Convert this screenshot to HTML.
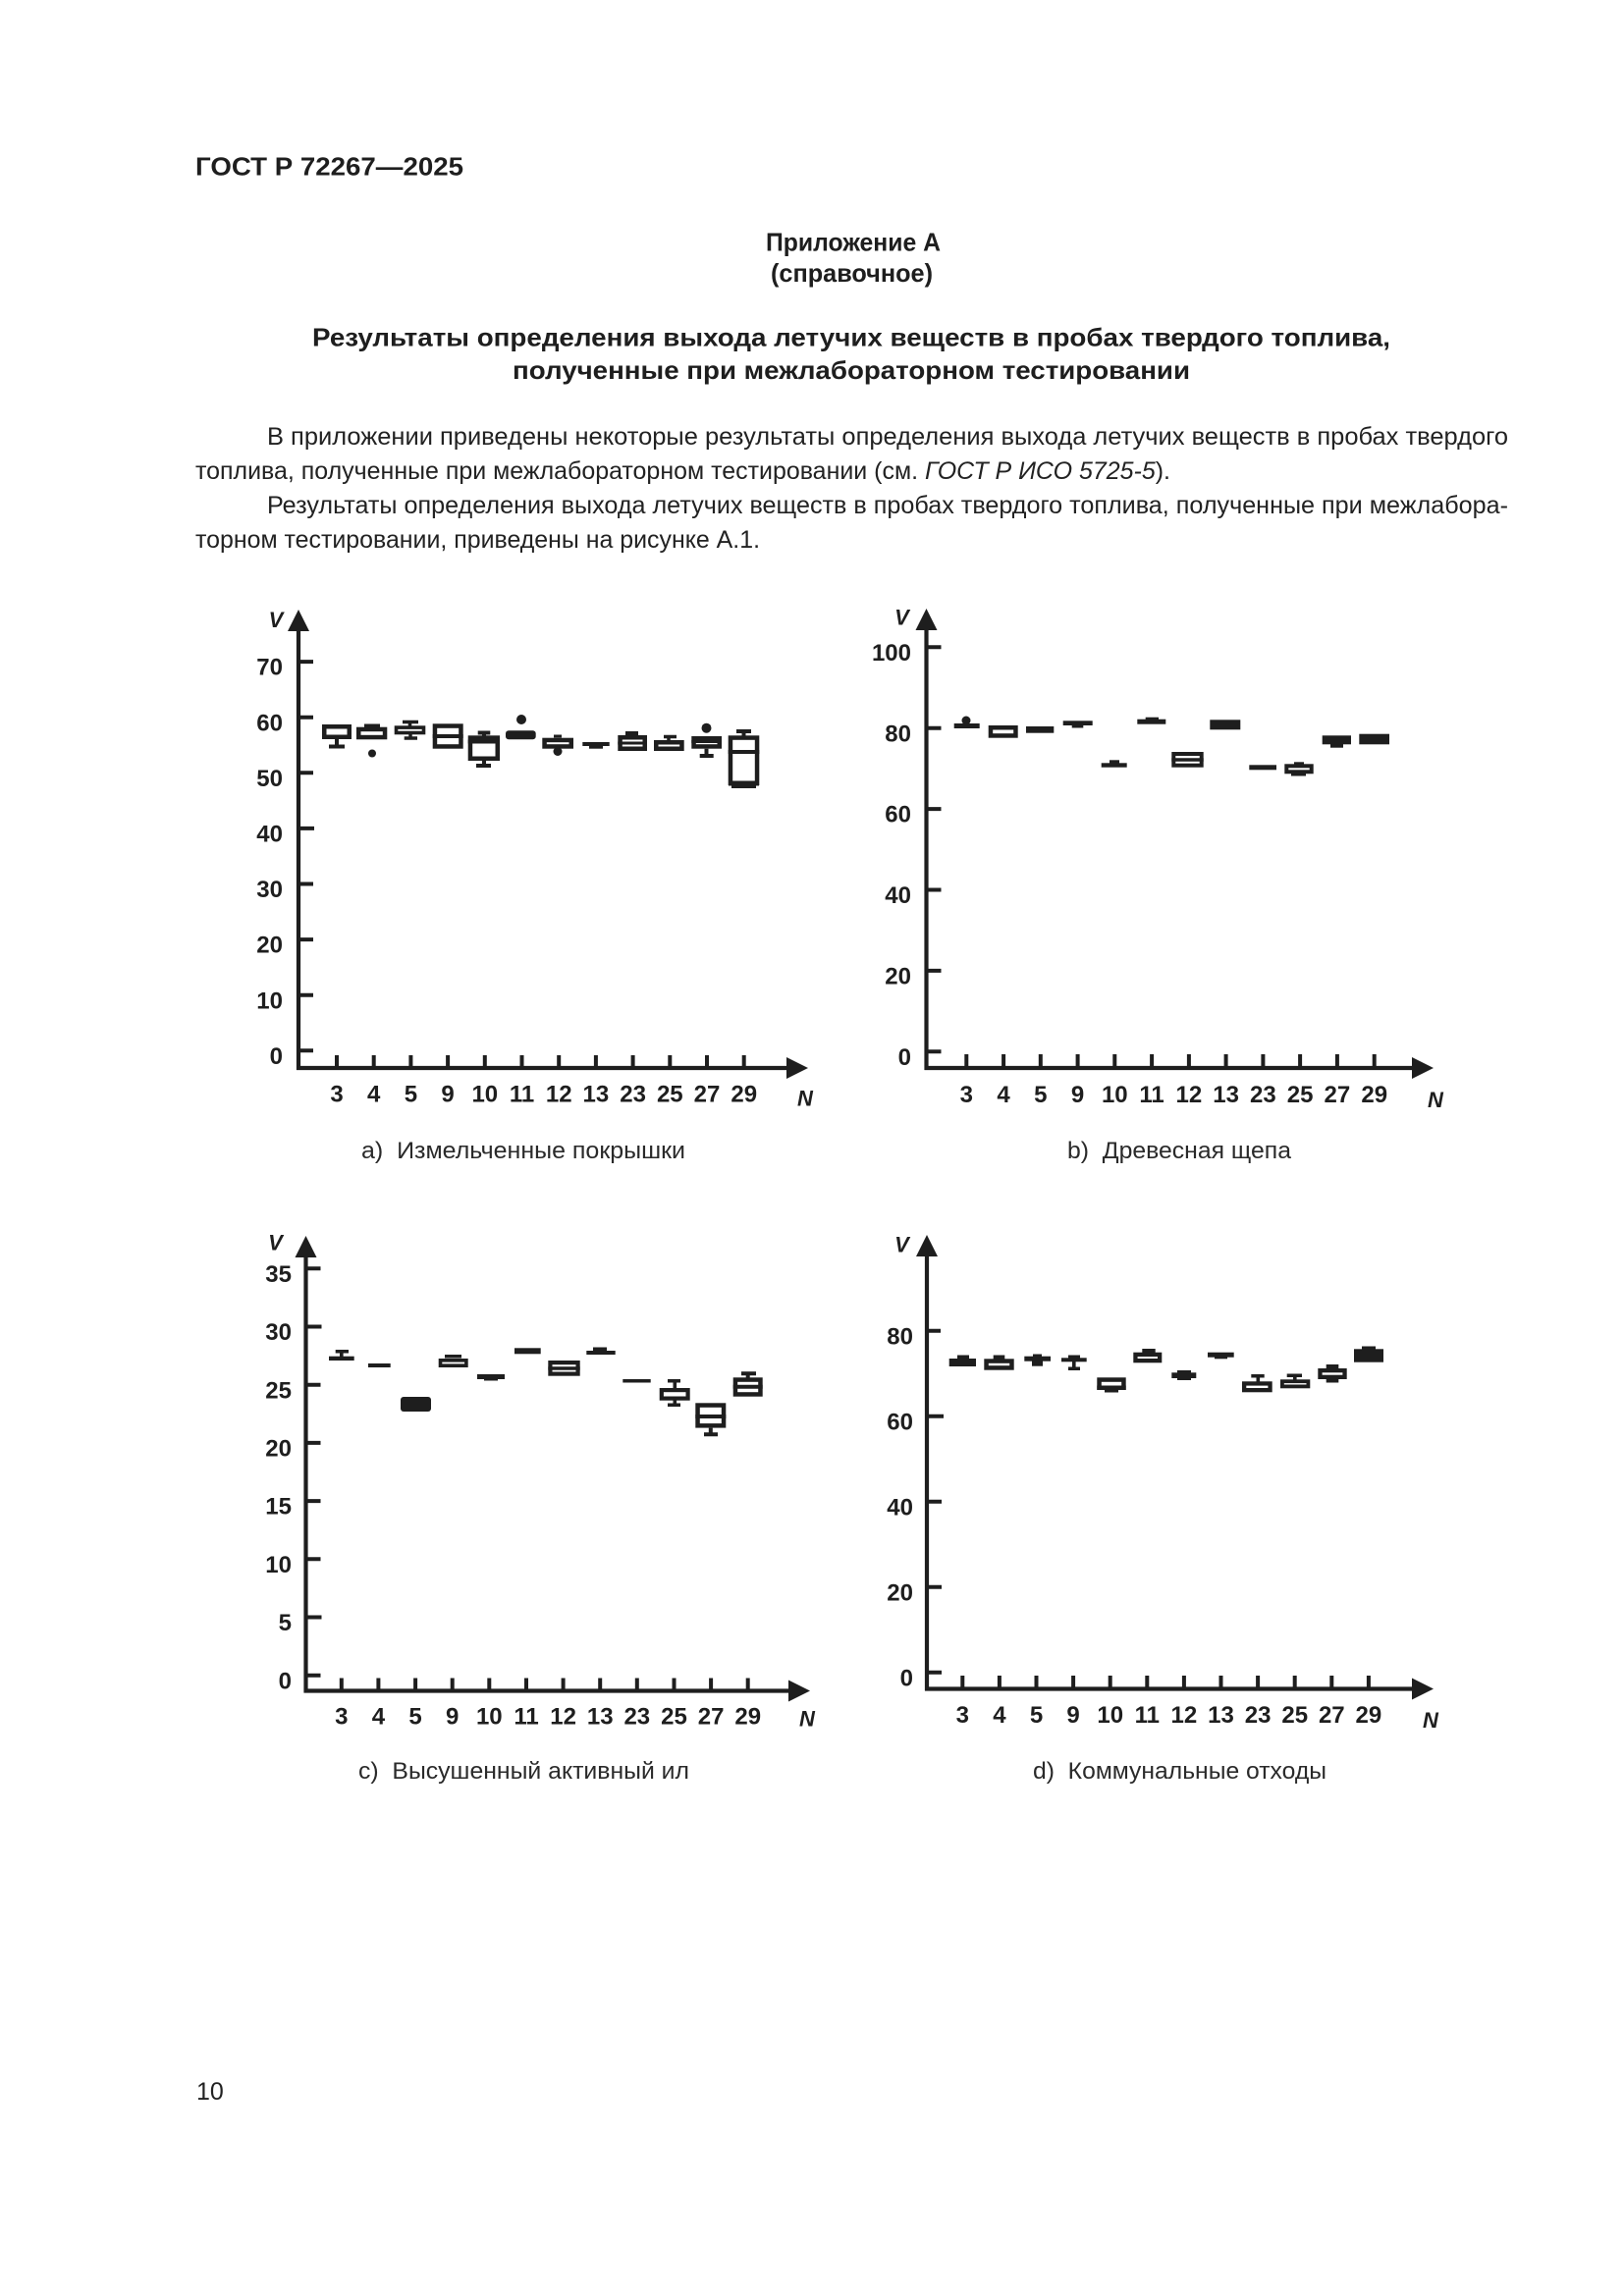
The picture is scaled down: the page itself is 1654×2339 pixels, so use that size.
<!DOCTYPE html>
<html><head><meta charset="utf-8">
<style>
html,body{margin:0;padding:0;background:#fff;}
svg{display:block;}
text{font-family:"Liberation Sans",Arial,"DejaVu Sans",sans-serif;fill:#1e1e1e;}
.b{font-weight:bold;}
.t{font-weight:bold;font-size:24px;}
.ax{font-weight:bold;font-style:italic;font-size:22px;}
.cap{font-size:24.5px;fill:#2a2a2a;white-space:pre;}
.body{font-size:25px;fill:#222;}
</style></head>
<body>
<svg width="1654" height="2339" viewBox="0 0 1654 2339" xmlns="http://www.w3.org/2000/svg">
<rect width="1654" height="2339" fill="#fff"/>

<!-- Header & text -->
<text x="199" y="178.5" class="b" font-size="26" textLength="273" lengthAdjust="spacingAndGlyphs">ГОСТ Р 72267—2025</text>
<text x="780" y="255.5" class="b" font-size="26" textLength="178" lengthAdjust="spacingAndGlyphs">Приложение А</text>
<text x="785" y="287" class="b" font-size="26" textLength="165" lengthAdjust="spacingAndGlyphs">(справочное)</text>
<text x="318" y="352.5" class="b" font-size="26" textLength="1098" lengthAdjust="spacingAndGlyphs">Результаты определения выхода летучих веществ в пробах твердого топлива,</text>
<text x="522" y="386" class="b" font-size="26" textLength="690" lengthAdjust="spacingAndGlyphs">полученные при межлабораторном тестировании</text>

<text x="272" y="453" class="body" textLength="1264" lengthAdjust="spacingAndGlyphs">В приложении приведены некоторые результаты определения выхода летучих веществ в пробах твердого</text>
<text x="199" y="488" class="body" textLength="993" lengthAdjust="spacingAndGlyphs">топлива, полученные при межлабораторном тестировании (см. <tspan font-style="italic">ГОСТ Р ИСО 5725-5</tspan>).</text>
<text x="272" y="523" class="body" textLength="1264" lengthAdjust="spacingAndGlyphs">Результаты определения выхода летучих веществ в пробах твердого топлива, полученные при межлабора-</text>
<text x="199" y="558" class="body" textLength="575" lengthAdjust="spacingAndGlyphs">торном тестировании, приведены на рисунке А.1.</text>

<text x="200" y="2139" class="body">10</text>

<!-- ================= Chart a ================= -->
<g stroke="#1e1e1e" fill="none" stroke-width="4.2">
<line x1="304" y1="640" x2="304" y2="1090"/>
<line x1="302" y1="1088" x2="805" y2="1088"/>
<path d="M304 1070.3h15M304 1013.7h15M304 957.1h15M304 900.5h15M304 843.9h16M304 787.3h15M304 730.7h15M304 674.1h15" stroke-width="4"/>
<path d="M343 1075v13M380.7 1075v13M418.4 1075v13M456.1 1075v13M493.8 1075v13M531.5 1075v13M569.2 1075v13M606.9 1075v13M644.6 1075v13M682.3 1075v13M720 1075v13M757.7 1075v13" stroke-width="4"/>
</g>
<g fill="#1e1e1e">
<polygon points="304,621 293,643 315,643"/>
<polygon points="823,1088 801,1077 801,1099"/>
</g>
<g class="t" text-anchor="end">
<text x="288" y="1083.9">0</text><text x="288" y="1027.3">10</text><text x="288" y="970.7">20</text><text x="288" y="914.1">30</text>
<text x="288" y="857.5">40</text><text x="288" y="800.9">50</text><text x="288" y="744.3">60</text><text x="288" y="687.7">70</text>
</g>
<g class="t" text-anchor="middle">
<text x="343" y="1122.6">3</text><text x="380.7" y="1122.6">4</text><text x="418.4" y="1122.6">5</text><text x="456.1" y="1122.6">9</text>
<text x="493.8" y="1122.6">10</text><text x="531.5" y="1122.6">11</text><text x="569.2" y="1122.6">12</text><text x="606.9" y="1122.6">13</text>
<text x="644.6" y="1122.6">23</text><text x="682.3" y="1122.6">25</text><text x="720" y="1122.6">27</text><text x="757.7" y="1122.6">29</text>
</g>
<text x="281" y="639" class="ax" text-anchor="middle">V</text>
<text x="820" y="1126.6" class="ax" text-anchor="middle">N</text>
<text x="368" y="1180" class="cap" textLength="330" lengthAdjust="spacingAndGlyphs">а)  Измельченные покрышки</text>

<!-- boxes a -->
<g stroke="#1e1e1e" fill="none" stroke-width="4.5">
<rect x="330.25" y="740.25" width="25.5" height="10.5"/>
<rect x="365.25" y="742.95" width="26.8" height="8.1"/>
<rect x="403.5" y="741.1" width="28" height="5.4" stroke-width="3.6"/>
<rect x="442.95" y="739.55" width="26.5" height="20.9"/>
<rect x="478.95" y="751.55" width="27.8" height="21.2"/>
<rect x="554.55" y="753.95" width="27.2" height="6.5"/>
<rect x="631.55" y="751.25" width="25.2" height="11.5"/>
<rect x="668.25" y="756.25" width="26.2" height="6.5"/>
<rect x="706.55" y="752.25" width="26.2" height="8.2"/>
<rect x="743.95" y="751.55" width="27.1" height="46.2"/>
<path d="M343 753v7M335 760.5h16" stroke-width="4"/>
<path d="M417.5 735.5v4M410 735.5h16M418 748v4M411.7 752h13.3" stroke-width="3.5"/>
<path d="M440.7 750h31" stroke-width="4"/>
<path d="M476.7 755.5h32.3M493 746.5v3M486.7 746.5h12.6M493 775v5M485 780h15" stroke-width="4"/>
<path d="M564 750h8" stroke-width="3"/>
<path d="M629.3 757h29.7" stroke-width="3"/>
<path d="M681 750.5v4M676 750.5h13" stroke-width="3.5"/>
<path d="M704.3 755.5h30.7" stroke-width="3"/>
<path d="M719.5 762.7v7M712.7 770h14" stroke-width="4"/>
<path d="M741.7 766h31.6M757.5 745v5M750 745h15" stroke-width="4"/>
</g>
<g fill="#1e1e1e">
<rect x="371" y="737.5" width="16" height="4"/>
<circle cx="379" cy="767.5" r="4"/>
<rect x="515" y="744.3" width="30.7" height="9" rx="3"/>
<circle cx="531" cy="733" r="5"/>
<circle cx="568" cy="765.5" r="4.5"/>
<rect x="593.3" y="756" width="27.4" height="4"/>
<rect x="600" y="758" width="14" height="4.7"/>
<rect x="637" y="745" width="13" height="4"/><rect x="642" y="747" width="4" height="3"/>
<circle cx="719.5" cy="741.7" r="5"/>
<rect x="742" y="797" width="31" height="3.5"/>
<rect x="745" y="799" width="25" height="4"/>
</g>

<!-- ================= Chart b ================= -->
<g stroke="#1e1e1e" fill="none" stroke-width="4.2">
<line x1="943.5" y1="639" x2="943.5" y2="1090"/>
<line x1="941.5" y1="1088" x2="1442" y2="1088"/>
<path d="M943.5 1071.3h15M943.5 988.9h15M943.5 906.5h15M943.5 824.1h15M943.5 741.7h15M943.5 659.3h15" stroke-width="4"/>
<path d="M984.3 1074v14M1022.1 1074v14M1059.8 1074v14M1097.6 1074v14M1135.3 1074v14M1173.1 1074v14M1210.9 1074v14M1248.6 1074v14M1286.4 1074v14M1324.1 1074v14M1361.9 1074v14M1399.7 1074v14" stroke-width="4"/>
</g>
<g fill="#1e1e1e">
<polygon points="943.5,620 932.5,642 954.5,642"/>
<polygon points="1460,1088 1438,1077 1438,1099"/>
</g>
<g class="t" text-anchor="end">
<text x="928" y="1084.9">0</text><text x="928" y="1002.5">20</text><text x="928" y="920.1">40</text>
<text x="928" y="837.7">60</text><text x="928" y="755.3">80</text><text x="928" y="672.9">100</text>
</g>
<g class="t" text-anchor="middle">
<text x="984.3" y="1123">3</text><text x="1022.1" y="1123">4</text><text x="1059.8" y="1123">5</text><text x="1097.6" y="1123">9</text>
<text x="1135.3" y="1123">10</text><text x="1173.1" y="1123">11</text><text x="1210.9" y="1123">12</text><text x="1248.6" y="1123">13</text>
<text x="1286.4" y="1123">23</text><text x="1324.1" y="1123">25</text><text x="1361.9" y="1123">27</text><text x="1399.7" y="1123">29</text>
</g>
<text x="918.5" y="636.6" class="ax" text-anchor="middle">V</text>
<text x="1462" y="1128" class="ax" text-anchor="middle">N</text>
<text x="1087" y="1180" class="cap" textLength="228" lengthAdjust="spacingAndGlyphs">b)  Древесная щепа</text>

<g stroke="#1e1e1e" fill="none" stroke-width="4.5">
<rect x="1008.95" y="741.25" width="25.5" height="8.2"/>
<rect x="1195.3" y="768" width="28.4" height="11.7" stroke-width="4"/>
<path d="M1193.3 774h32.4" stroke-width="3.5"/>
<rect x="1310.3" y="780.3" width="25.4" height="6" stroke-width="4"/>
</g>
<g fill="#1e1e1e">
<rect x="971.7" y="737" width="26" height="5"/><circle cx="984" cy="734" r="4.5"/>
<rect x="1045" y="740" width="28.3" height="6.7"/>
<rect x="1082.7" y="734.3" width="30" height="4.7"/><rect x="1091.7" y="737" width="11.6" height="4.5"/>
<rect x="1121.7" y="777.3" width="26" height="4.4"/><rect x="1130" y="774.3" width="10" height="4"/>
<rect x="1158.3" y="732.7" width="29" height="5"/><rect x="1166.7" y="730.7" width="13.3" height="3"/>
<rect x="1232.3" y="733.3" width="31" height="10"/>
<rect x="1272.3" y="779.3" width="27.7" height="5"/>
<rect x="1318" y="776.3" width="10" height="3"/><rect x="1315" y="787" width="15" height="3.5"/>
<rect x="1346.7" y="749.3" width="29.3" height="9"/><rect x="1355" y="757" width="13" height="4.7"/>
<rect x="1384.3" y="747.7" width="30.7" height="10.6"/>
</g>

<!-- ================= Chart c ================= -->
<g stroke="#1e1e1e" fill="none" stroke-width="4.2">
<line x1="311.5" y1="1278" x2="311.5" y2="1724.5"/>
<line x1="309.5" y1="1722.5" x2="807" y2="1722.5"/>
<path d="M311.5 1706.7h15M311.5 1647.5h16M311.5 1588.3h15M311.5 1529.1h15M311.5 1469.9h15M311.5 1410.7h15M311.5 1351.5h16M311.5 1292.3h15" stroke-width="4"/>
<path d="M347.8 1709.5v13M385.4 1709.5v13M423.1 1709.5v13M460.7 1709.5v13M498.3 1709.5v13M536 1709.5v13M573.6 1709.5v13M611.2 1709.5v13M648.8 1709.5v13M686.5 1709.5v13M724.1 1709.5v13M761.7 1709.5v13" stroke-width="4"/>
</g>
<g fill="#1e1e1e">
<polygon points="311.5,1259 300.5,1281 322.5,1281"/>
<polygon points="825,1722.5 803,1711.5 803,1733.5"/>
</g>
<g class="t" text-anchor="end">
<text x="297" y="1720.3">0</text><text x="297" y="1661.1">5</text><text x="297" y="1601.9">10</text><text x="297" y="1542.7">15</text>
<text x="297" y="1483.5">20</text><text x="297" y="1424.3">25</text><text x="297" y="1365.1">30</text><text x="297" y="1305.9">35</text>
</g>
<g class="t" text-anchor="middle">
<text x="347.8" y="1756.5">3</text><text x="385.4" y="1756.5">4</text><text x="423.1" y="1756.5">5</text><text x="460.7" y="1756.5">9</text>
<text x="498.3" y="1756.5">10</text><text x="536" y="1756.5">11</text><text x="573.6" y="1756.5">12</text><text x="611.2" y="1756.5">13</text>
<text x="648.8" y="1756.5">23</text><text x="686.5" y="1756.5">25</text><text x="724.1" y="1756.5">27</text><text x="761.7" y="1756.5">29</text>
</g>
<text x="280.5" y="1273.6" class="ax" text-anchor="middle">V</text>
<text x="822" y="1758.6" class="ax" text-anchor="middle">N</text>
<text x="365" y="1812" class="cap" textLength="337" lengthAdjust="spacingAndGlyphs">с)  Высушенный активный ил</text>

<g stroke="#1e1e1e" fill="none" stroke-width="4.5">
<rect x="448.5" y="1385.8" width="26.4" height="5.4" stroke-width="3.6"/>
<rect x="560.4" y="1388.1" width="28.2" height="11.5" stroke-width="4.2"/>
<path d="M558.3 1394h32.4" stroke-width="3.5"/>
<rect x="673.8" y="1416.1" width="26.8" height="8.5" stroke-width="4.2"/>
<rect x="710.55" y="1431.55" width="26.5" height="20.8"/>
<path d="M708.3 1443h31M723.8 1454.6v7M717 1461.3h14" stroke-width="4"/>
<rect x="748.95" y="1405.55" width="25.5" height="14.9"/>
<path d="M746.7 1412.7h30M761.7 1399.3v5M755 1399.3h15" stroke-width="4"/>
</g>
<g fill="#1e1e1e">
<rect x="335" y="1381.7" width="25.7" height="4.3"/><rect x="341.7" y="1375" width="13.3" height="3.5"/><rect x="346" y="1377" width="3.6" height="5"/>
<rect x="375" y="1389" width="22.7" height="4"/>
<rect x="408" y="1423" width="31" height="15" rx="3"/>
<rect x="453" y="1380" width="17" height="3.5"/>
<rect x="486" y="1400" width="28" height="5"/><rect x="493" y="1404" width="14" height="2.5"/>
<rect x="524" y="1373.3" width="26.7" height="6"/>
<rect x="597.3" y="1376" width="29.4" height="4"/><rect x="604" y="1372.5" width="14" height="4"/>
<rect x="634.3" y="1405" width="28.4" height="3.5"/>
<rect x="680" y="1405" width="13" height="3.5"/><rect x="685.5" y="1407" width="3.6" height="8"/>
<rect x="685.5" y="1425" width="3.6" height="5"/><rect x="680" y="1429.5" width="13" height="3.5"/>
</g>

<!-- ================= Chart d ================= -->
<g stroke="#1e1e1e" fill="none" stroke-width="4.2">
<line x1="944" y1="1277" x2="944" y2="1722.5"/>
<line x1="942" y1="1720.5" x2="1442" y2="1720.5"/>
<path d="M944 1703.7h15M944 1616.7h15M944 1529.7h15M944 1442.7h17M944 1355.7h14" stroke-width="4"/>
<path d="M980.3 1707v13.5M1017.9 1707v13.5M1055.5 1707v13.5M1093.1 1707v13.5M1130.7 1707v13.5M1168.3 1707v13.5M1205.9 1707v13.5M1243.5 1707v13.5M1281.1 1707v13.5M1318.7 1707v13.5M1356.3 1707v13.5M1393.9 1707v13.5" stroke-width="4"/>
</g>
<g fill="#1e1e1e">
<polygon points="944,1258 933,1280 955,1280"/>
<polygon points="1460,1720.5 1438,1709.5 1438,1731.5"/>
</g>
<g class="t" text-anchor="end">
<text x="930" y="1717.3">0</text><text x="930" y="1630.3">20</text><text x="930" y="1543.3">40</text>
<text x="930" y="1456.3">60</text><text x="930" y="1369.3">80</text>
</g>
<g class="t" text-anchor="middle">
<text x="980.3" y="1755">3</text><text x="1017.9" y="1755">4</text><text x="1055.5" y="1755">5</text><text x="1093.1" y="1755">9</text>
<text x="1130.7" y="1755">10</text><text x="1168.3" y="1755">11</text><text x="1205.9" y="1755">12</text><text x="1243.5" y="1755">13</text>
<text x="1281.1" y="1755">23</text><text x="1318.7" y="1755">25</text><text x="1356.3" y="1755">27</text><text x="1393.9" y="1755">29</text>
</g>
<text x="918.5" y="1275.6" class="ax" text-anchor="middle">V</text>
<text x="1457" y="1760" class="ax" text-anchor="middle">N</text>
<text x="1052" y="1812" class="cap" textLength="299" lengthAdjust="spacingAndGlyphs">d)  Коммунальные отходы</text>

<g stroke="#1e1e1e" fill="none" stroke-width="4.5">
<rect x="1004.55" y="1386.55" width="25.9" height="6.9"/>
<rect x="1119.55" y="1405.55" width="24.9" height="8.2"/>
<rect x="1156.45" y="1379.85" width="24.7" height="6.3" stroke-width="4.3"/>
<rect x="1267.15" y="1409.45" width="26.4" height="6.7" stroke-width="4.3"/>
<rect x="1305.9" y="1407.2" width="26.5" height="5.2" stroke-width="3.8"/>
<rect x="1344.45" y="1396.15" width="25.1" height="6.7" stroke-width="4.3"/>
</g>
<g fill="#1e1e1e">
<rect x="966.7" y="1384" width="27.3" height="8"/><rect x="975" y="1380.5" width="12" height="4.5"/>
<rect x="1011.7" y="1380.5" width="11.6" height="4"/>
<rect x="1043.3" y="1381.7" width="26.7" height="5"/><rect x="1051" y="1385" width="11" height="6.7"/><rect x="1052" y="1379.5" width="9" height="3"/>
<rect x="1081" y="1383.3" width="25.7" height="4"/><rect x="1092" y="1387" width="3.6" height="6"/><rect x="1088" y="1392.5" width="12" height="3.5"/><rect x="1088" y="1380.5" width="12" height="3.5"/>
<rect x="1117.3" y="1411.5" width="29.4" height="4.5"/><rect x="1125" y="1415" width="14" height="3.5"/>
<rect x="1163.3" y="1374" width="13.4" height="4"/>
<rect x="1193.3" y="1398.3" width="25" height="5.7"/><rect x="1199" y="1396" width="14" height="10"/>
<rect x="1230" y="1377.7" width="26.7" height="5"/><rect x="1237" y="1381" width="13" height="3.3"/>
<rect x="1274.3" y="1400" width="13.4" height="3.5"/><rect x="1279.5" y="1402" width="3.6" height="6"/>
<rect x="1310.7" y="1399.5" width="15.3" height="3.5"/><rect x="1317" y="1401" width="3.6" height="5"/>
<rect x="1350.7" y="1390" width="12.6" height="4"/><rect x="1350.7" y="1404.5" width="12.6" height="4"/>
<rect x="1379" y="1374.3" width="30" height="13.4"/><rect x="1387" y="1371.5" width="14" height="4"/>
</g>

</svg>
</body></html>
